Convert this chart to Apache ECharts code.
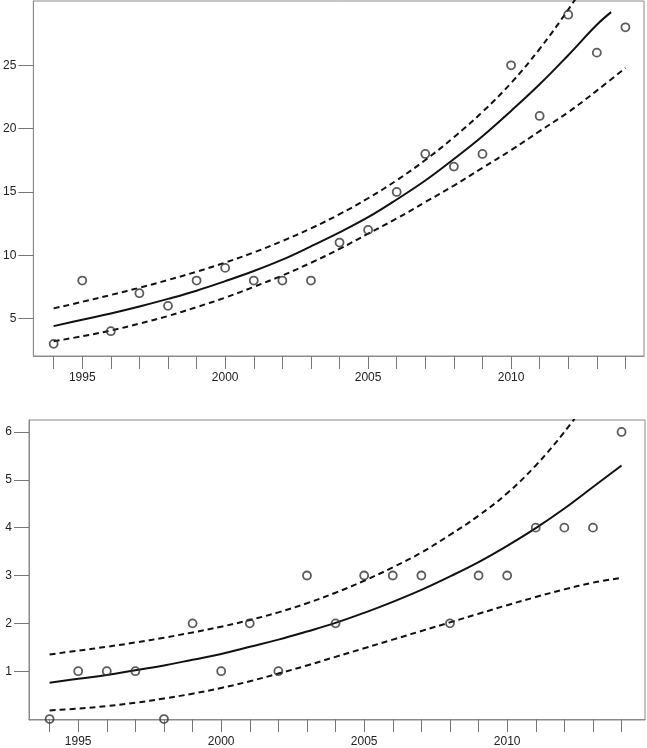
<!DOCTYPE html>
<html>
<head>
<meta charset="utf-8">
<script src="https://cdn.jsdelivr.net/npm/echarts@6/dist/echarts.min.js"></script>
<style>
  html, body { margin: 0; padding: 0; background: #fff; }
  #chart { width: 647px; height: 748px; }
</style>
</head>
<body>
<div id="chart"></div>
<script>
// years on both panels
var years = [1994, 1995, 1996, 1997, 1998, 1999, 2000, 2001, 2002, 2003, 2004,
  2005, 2006, 2007, 2008, 2009, 2010, 2011, 2012, 2013, 2014]
var yearLabels = [1995, 2000, 2005, 2010]

// top panel
var countsTop = [3, 8, 4, 7, 6, 8, 9, 8, 8, 8, 11, 12, 15, 18, 17, 18, 25, 21, 29, 26, 28]
var fitTopYears = [1994, 1995, 1996, 1997, 1998, 1999, 2000, 2001, 2002, 2003, 2004,
  2005, 2006, 2007, 2008, 2009, 2010, 2011, 2012, 2013, 2013.5]
var fitTop = [4.4, 4.9, 5.4, 5.95, 6.55, 7.2, 7.95, 8.75, 9.65, 10.7, 11.8,
  13.0, 14.4, 15.9, 17.6, 19.4, 21.4, 23.5, 25.8, 28.2, 29.2]
var upperTop = [5.8, 6.32, 6.86, 7.43, 8.04, 8.7, 9.42, 10.22, 11.12, 12.12, 13.24,
  14.5, 15.92, 17.52, 19.32, 21.32, 23.6, 26.3, 29.4, 32.8]
var lowerTop = [3.2, 3.6, 4.05, 4.6, 5.2, 5.9, 6.65, 7.5, 8.4, 9.4, 10.5,
  11.7, 12.9, 14.2, 15.5, 16.9, 18.3, 19.8, 21.3, 23.0, 24.8]
var yTicksTop = [5, 10, 15, 20, 25]

// bottom panel
var countsBottom = [0, 1, 1, 1, 0, 2, 1, 2, 1, 3, 2, 3, 3, 3, 2, 3, 3, 4, 4, 4, 6]
var fitBottom = [0.76, 0.84, 0.92, 1.02, 1.12, 1.24, 1.36, 1.51, 1.66, 1.83, 2.01,
  2.22, 2.45, 2.7, 2.98, 3.28, 3.62, 3.99, 4.4, 4.85, 5.3]
var upperBottom = [1.35, 1.43, 1.51, 1.6, 1.7, 1.81, 1.93, 2.07, 2.23, 2.42, 2.64,
  2.89, 3.17, 3.48, 3.85, 4.25, 4.72, 5.3, 6.0, 6.8]
var lowerBottom = [0.18, 0.22, 0.27, 0.34, 0.43, 0.53, 0.65, 0.79, 0.95, 1.12, 1.3,
  1.48, 1.66, 1.84, 2.02, 2.2, 2.38, 2.55, 2.71, 2.85, 2.95]
var yTicksBottom = [1, 2, 3, 4, 5, 6]

function pairs(xs, ys) {
  var out = []
  for (var i = 0; i < ys.length; i++) out.push([xs[i], ys[i]])
  return out
}

var frameColor = '#8a8a8a'
var textColor = '#222'

function xAxisFor(gridIndex, min, max) {
  return {
    type: 'value',
    gridIndex: gridIndex,
    min: min,
    max: max,
    axisLine: { show: true, lineStyle: { color: frameColor, width: 1 } },
    axisTick: { show: true, length: 13, customValues: years, lineStyle: { color: '#777' } },
    axisLabel: {
      customValues: yearLabels,
      margin: 16,
      color: textColor,
      fontSize: 12,
      fontFamily: 'Liberation Sans, Arial, sans-serif',
      formatter: function (v) { return String(v) },
    },
    splitLine: { show: false },
  }
}

function yAxisFor(gridIndex, min, max, ticks) {
  return {
    type: 'value',
    gridIndex: gridIndex,
    min: min,
    max: max,
    axisLine: { show: true, lineStyle: { color: frameColor, width: 1 } },
    axisTick: { show: true, length: 15, customValues: ticks, lineStyle: { color: '#777' } },
    axisLabel: {
      customValues: ticks,
      margin: 17,
      color: textColor,
      fontSize: 12,
      fontFamily: 'Liberation Sans, Arial, sans-serif',
    },
    splitLine: { show: false },
  }
}

function points(idx, data) {
  return {
    type: 'scatter',
    xAxisIndex: idx,
    yAxisIndex: idx,
    data: data,
    symbol: 'circle',
    symbolSize: 8,
    itemStyle: { color: 'rgba(0,0,0,0)', borderColor: '#333', borderWidth: 1.8 },
    z: 3,
  }
}

function curve(idx, data, dashed) {
  return {
    type: 'line',
    xAxisIndex: idx,
    yAxisIndex: idx,
    data: data,
    smooth: 0.4,
    showSymbol: false,
    clip: true,
    lineStyle: {
      color: '#111',
      width: 2,
      type: dashed ? [6, 4] : 'solid',
    },
    z: 2,
  }
}

var chart = echarts.init(document.getElementById('chart'))
chart.setOption({
  animation: false,
  backgroundColor: '#fff',
  grid: [
    { left: 32, top: 1, width: 612, height: 355, show: true, borderColor: frameColor, borderWidth: 1 },
    { left: 29, top: 420, width: 616, height: 300, show: true, borderColor: frameColor, borderWidth: 1 },
  ],
  xAxis: [
    xAxisFor(0, 1993.29, 2014.65),
    xAxisFor(1, 1993.28, 2014.82),
  ],
  yAxis: [
    yAxisFor(0, 2.04, 30.08, yTicksTop),
    yAxisFor(1, -0.02, 6.25, yTicksBottom),
  ],
  series: [
    curve(0, pairs(fitTopYears, fitTop), false),
    curve(0, pairs(years, upperTop), true),
    curve(0, pairs(years, lowerTop), true),
    points(0, pairs(years, countsTop)),
    curve(1, pairs(years, fitBottom), false),
    curve(1, pairs(years, upperBottom), true),
    curve(1, pairs(years, lowerBottom), true),
    points(1, pairs(years, countsBottom)),
  ],
})
</script>
</body>
</html>
